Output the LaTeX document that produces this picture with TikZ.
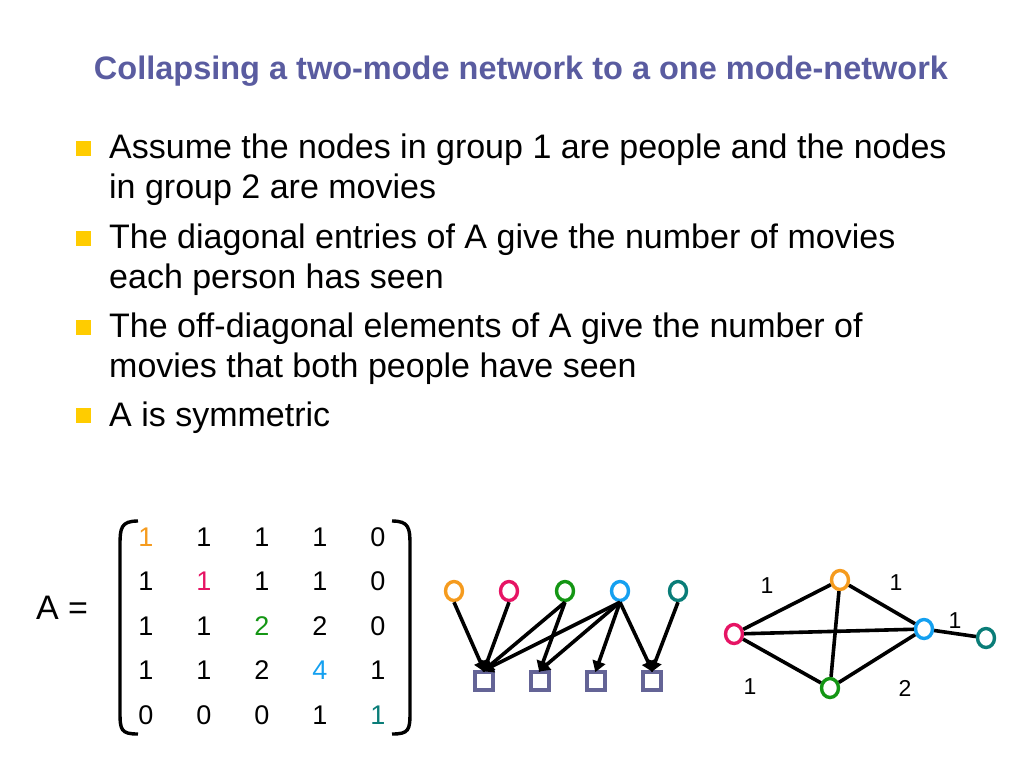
\documentclass[tikz,border=0pt]{standalone}
\usepackage{fontspec}
\setmainfont{Liberation Sans}
\usetikzlibrary{arrows.meta,shapes.geometric}
\definecolor{titlec}{RGB}{90,92,160}
\definecolor{bul}{RGB}{255,204,0}
\definecolor{corange}{RGB}{245,155,30}
\definecolor{cpink}{RGB}{230,20,100}
\definecolor{cgreen}{RGB}{20,150,20}
\definecolor{cblue}{RGB}{20,160,240}
\definecolor{cteal}{RGB}{10,125,120}
\definecolor{sqc}{RGB}{100,100,150}
\begin{document}
\begin{tikzpicture}[x=1pt,y=-1pt,
  circ/.style={draw=#1,line width=3.4pt,ellipse,minimum width=17pt,minimum height=19pt,inner sep=0pt},
  sq/.style={draw=sqc,line width=3.4pt,minimum size=18pt,inner sep=0pt},
  arr/.style={line width=3.6pt,-{Triangle[length=11pt,width=13pt]},shorten >=-2pt},
  edge/.style={line width=3.6pt},
  body/.style={anchor=base west,inner sep=0pt,font=\fontsize{34}{40}\selectfont},
  num/.style={font=\fontsize{27}{32}\selectfont},
  lab/.style={font=\fontsize{23}{27}\selectfont}]
\useasboundingbox (0,0) rectangle (1024,768);
\node[font=\bfseries\fontsize{32.5}{38}\selectfont,text=titlec] (title) at (521,71) {Collapsing a two-mode network to a one mode-network};
% bullets
\foreach \y/\n in {148/b1,238/b2,327/b3,415/b4}{\node[fill=bul,minimum size=15pt,inner sep=0pt] (\n) at (83,\y) {};}
\node[body] (t1) at (109,158) {Assume the nodes in group 1 are people and the nodes};
\node[body] (t1b) at (109,198) {in group 2 are movies};
\node[body] (t2) at (109,248) {The diagonal entries of A give the number of movies};
\node[body] (t2b) at (109,288) {each person has seen};
\node[body] (t3) at (109,337) {The off-diagonal elements of A give the number of};
\node[body] (t3b) at (109,377) {movies that both people have seen};
\node[body] (t4) at (109,426) {A is symmetric};
% matrix
\node[font=\fontsize{34}{40}\selectfont] (A) at (62,608) {A =};
\draw[line width=3.4pt] (138,521) .. controls (121,521) and (120,528) .. (120,545) -- (120,712) .. controls (120,730) and (121,734) .. (138,734);
\draw[line width=3.4pt] (392,521) .. controls (409,521) and (410,528) .. (410,545) -- (410,712) .. controls (410,730) and (409,734) .. (392,734);
\foreach \r [count=\i] in {{1,1,1,1,0},{1,1,1,1,0},{1,1,2,2,0},{1,1,2,4,1},{0,0,0,1,1}}{
  \foreach \v [count=\j] in \r {
    \pgfmathsetmacro{\xx}{146+(\j-1)*58}
    \pgfmathsetmacro{\yy}{537+(\i-1)*44.5}
    \ifnum\i=\j
      \ifcase\i\or\def\cc{corange}\or\def\cc{cpink}\or\def\cc{cgreen}\or\def\cc{cblue}\or\def\cc{cteal}\fi
    \else\def\cc{black}\fi
    \node[num,text=\cc] (m\i\j) at (\xx,\yy) {\v};
  }}
% bipartite
\node[circ=corange] (p1) at (454,591) {};
\node[circ=cpink] (p2) at (509,591) {};
\node[circ=cgreen] (p3) at (565,591) {};
\node[circ=cblue] (p4) at (620,591) {};
\node[circ=cteal] (p5) at (678,591) {};
\node[sq] (s1) at (484,681) {};
\node[sq] (s2) at (540,681) {};
\node[sq] (s3) at (596,681) {};
\node[sq] (s4) at (652,681) {};
\foreach \a/\b in {p1/s1,p2/s1,p3/s1,p3/s2,p4/s1,p4/s2,p4/s3,p4/s4,p5/s4}
  \draw[arr] (\a.south) -- (\b.north);
% one-mode
\node[circ=corange] (q1) at (840,580) {};
\node[circ=cpink] (q2) at (734,634) {};
\node[circ=cblue] (q4) at (924,629) {};
\node[circ=cteal] (q5) at (986,638) {};
\node[circ=cgreen] (q3) at (830,688) {};
\foreach \a/\b in {q2/q1,q1/q4,q2/q4,q1/q3,q2/q3,q3/q4,q4/q5}
  \draw[edge] (\a) -- (\b);
\node[lab] (l1) at (767,586) {1};
\node[lab] (l2) at (896,583) {1};
\node[lab] (l3) at (955,621) {1};
\node[lab] (l4) at (750,687) {1};
\node[lab] (l5) at (905,688) {2};
\end{tikzpicture}
\end{document}
